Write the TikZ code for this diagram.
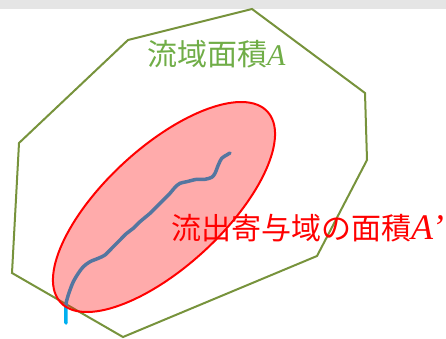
\documentclass[tikz,border=0pt]{standalone}
\usepackage{fontspec}
\newfontfamily\jpfont{Noto Sans CJK JP}
\newfontfamily\tmsfont{Liberation Serif}
\definecolor{polyg}{HTML}{77933C}
\definecolor{txtg}{HTML}{70AD47}
\definecolor{river}{HTML}{00B0F0}
\begin{document}
\begin{tikzpicture}[x=1pt,y=-1pt,
  basin/.style={draw=polyg,line width=2pt,line join=miter},
  contrib/.style={draw=red,line width=2pt,fill=red,fill opacity=0.33},
  riverline/.style={draw=river,line width=3.5pt},
  greenlbl/.style={text=txtg,anchor=west,inner sep=0pt,font=\jpfont\fontsize{30}{36}\selectfont},
  redlbl/.style={text=red,anchor=west,inner sep=0pt,font=\jpfont\fontsize{30}{36}\selectfont}]
\useasboundingbox (0,0) rectangle (446,338);
\clip (0,0) rectangle (446,338);
\fill[gray!20] (0,0) rectangle (446,9);
\draw[basin] (128,40) -- (252,9) -- (365,93) -- (367,160) -- (317,256) -- (123,337) -- (12,273) -- (19,143) -- cycle;
\draw[riverline,line cap=round] plot[smooth,tension=0.5] coordinates {(66,323) (66,305) (67.3,298.3) (70,290) (73.3,281.7) (78.3,273.3) (83.3,266.7) (90,261.7) (98.3,258.3) (105,255) (111.7,248.3) (120,240) (126.7,233.3) (133.3,228.3) (140,221.7) (150,213.3) (156.7,206.7) (163.3,200) (170,193.3) (175,187.3) (180,183.3) (186.7,181.7) (196.7,179.3) (205,179.3) (211.7,177.3) (215,173.3) (218.3,165) (221.7,158.3) (226.7,155) (230,153)};
\draw[contrib,shift={(164,207)},rotate=42.7] (0,0) ellipse [x radius=140.7pt, y radius=59.6pt];
\node[greenlbl] (basinlbl) at (147,54) {流域面積{\tmsfont\itshape A}};
\node[redlbl] (contriblbl) at (171,228) {流出寄与域の面積{\tmsfont\itshape\fontsize{36}{40}\selectfont A’}};
\end{tikzpicture}
\end{document}
